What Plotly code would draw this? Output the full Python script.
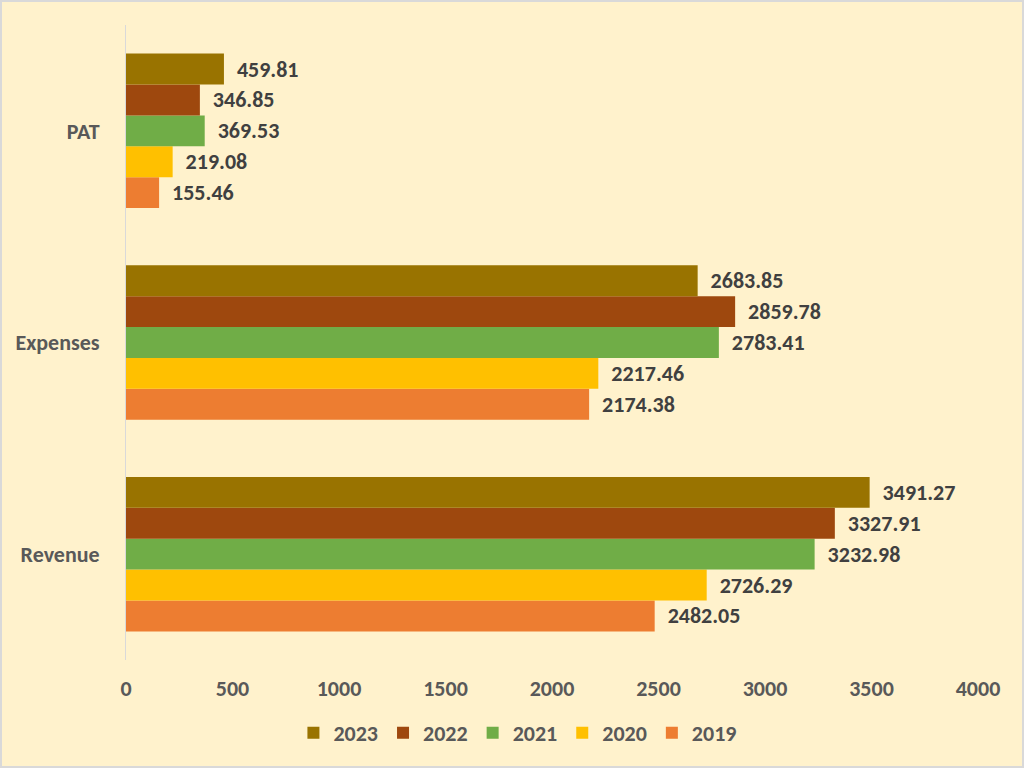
import plotly.graph_objects as go

# categories bottom -> top
categories = ['Revenue', 'Expenses', 'PAT']
years = ['2019', '2020', '2021', '2022', '2023']
values = {
    '2019': [2482.05, 2174.38, 155.46],
    '2020': [2726.29, 2217.46, 219.08],
    '2021': [3232.98, 2783.41, 369.53],
    '2022': [3327.91, 2859.78, 346.85],
    '2023': [3491.27, 2683.85, 459.81],
}
colors = {
    '2019': '#ED7D31',
    '2020': '#FFC000',
    '2021': '#70AD47',
    '2022': '#9E480E',
    '2023': '#997300',
}
x_ticks = [0, 500, 1000, 1500, 2000, 2500, 3000, 3500, 4000]

FONT = "Carlito, Calibri, Lato, sans-serif"
GREY = '#595959'
SIZE = 22


def build_figure():
    fig = go.Figure()
    for y in years:
        fig.add_trace(go.Bar(
            y=categories, x=values[y], name=y, orientation='h',
            marker=dict(color=colors[y], line=dict(width=0)),
            text=['\u00a0\u00a0' + f'{v:.2f}' for v in values[y]],
            textposition='outside', cliponaxis=False,
            textfont=dict(family=FONT, size=SIZE, color='#404040', weight='bold'),
        ))

    fig.update_layout(
        width=1024, height=768,
        margin=dict(l=126, r=46, t=25, b=108),
        paper_bgcolor='#FFF2CC', plot_bgcolor='#FFF2CC',
        barmode='group', bargap=0.27, bargroupgap=0,
        font=dict(family=FONT, color=GREY, size=SIZE, weight='bold'),
        legend=dict(orientation='h', x=0.46, xanchor='center', y=-73 / 635,
                    yanchor='middle', traceorder='reversed',
                    bgcolor='rgba(0,0,0,0)', itemwidth=30,
                    font=dict(family=FONT, size=SIZE, color=GREY, weight='bold')),
        showlegend=True,
    )
    fig.update_xaxes(range=[0, 4000], tickvals=x_ticks, showgrid=False,
                     zeroline=False, showline=False, ticklabelstandoff=13,
                     tickfont=dict(family=FONT, size=SIZE, color=GREY, weight='bold'))
    fig.update_yaxes(showgrid=False, showline=True, linecolor='#D9D9D9',
                     linewidth=1, ticklabelstandoff=21,
                     tickfont=dict(family=FONT, size=SIZE, color=GREY, weight='bold'))

    # outer border of the chart
    w, h = 852, 635
    fig.add_shape(type='rect', xref='paper', yref='paper',
                  x0=-125 / w, x1=1 + 45 / w, y0=-107 / h, y1=1 + 24 / h,
                  line=dict(color='#D9D9D9', width=2), layer='below')

    # page has a default body margin; remove it so the chart sits at 0,0
    fig.write_html('out.html', config={'displayModeBar': False},
                   post_script="document.body.style.margin='0';")


if __name__ == '__main__':
    build_figure()
